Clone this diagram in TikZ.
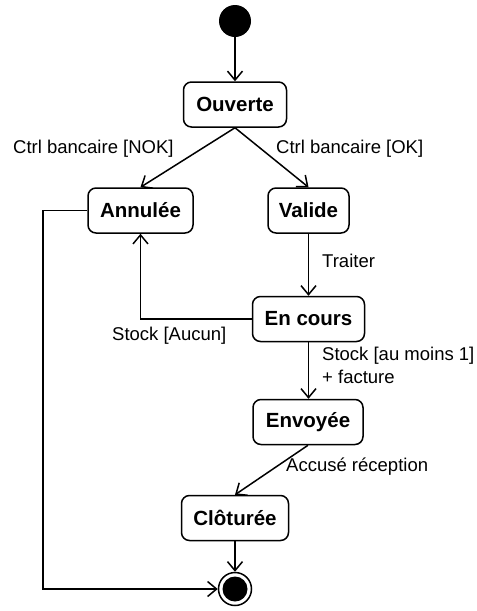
\documentclass[tikz,border=0pt]{standalone}
\usepackage{fontspec}
\setmainfont{Liberation Sans}
\usetikzlibrary{arrows.meta}
\begin{document}
\begin{tikzpicture}[x=1pt,y=-1pt,
  state/.style={draw, line width=1.5pt, rounded corners=8pt, minimum height=45pt, inner sep=0pt,
    font=\fontsize{20.5}{24}\selectfont\bfseries},
  lbl/.style={inner sep=0pt, font=\fontsize{18.5}{23}\selectfont, anchor=west, align=left},
  conn/.style={line width=1.5pt, -{Straight Barb[length=9pt,width=15pt]}},
  plain/.style={line width=1.5pt}]
\useasboundingbox (0,0) rectangle (477,611);
\node[circle, fill=black, minimum size=32pt, inner sep=0pt] (init) at (235,21) {};
\node[state, minimum width=103pt] (ouv) at (235,104.5) {Ouverte};
\node[state, minimum width=105pt] (ann) at (140.5,210.5) {Annulée};
\node[state, minimum width=81pt] (val) at (308.5,210.5) {Valide};
\node[state, minimum width=112pt] (enc) at (308.5,319) {En cours};
\node[state, minimum width=110pt] (env) at (308,422) {Envoyée};
\node[state, minimum width=107pt] (clo) at (235,518) {Clôturée};
\node[circle, draw, line width=1.5pt, minimum size=33pt, inner sep=0pt] (fin) at (235,589) {};
\fill (fin.center) circle (12.5pt);
\coordinate (corner) at (43,210.5);

\node[lbl] (l1) at (13,149) {Ctrl bancaire [NOK]};
\node[lbl] (l2) at (276,149) {Ctrl bancaire [OK]};
\node[lbl] (l3) at (322,261) {Traiter};
\node[lbl] (l4) at (112,336) {Stock [Aucun]};
\node[lbl, align=left, anchor=north west] (l5) at (322,347) {Stock [au moins 1]\\+ facture};
\node[lbl] (l6) at (286,467) {Accusé réception};

\draw[conn] (init) -- (ouv);
\draw[conn] (ouv.south) -- (ann.north);
\draw[conn] (ouv.south) -- (val.north);
\draw[conn] (val.south) -- (val.south |- enc.north);
\draw[conn] (enc.west) -| (ann.south);
\draw[conn] (enc.south) -- (enc.south |- env.north);
\draw[conn] (env.south) -- (clo.north);
\draw[conn] (clo) -- (fin);
\draw[conn] (ann.west) -- (corner) |- (fin.west);
\end{tikzpicture}
\end{document}
